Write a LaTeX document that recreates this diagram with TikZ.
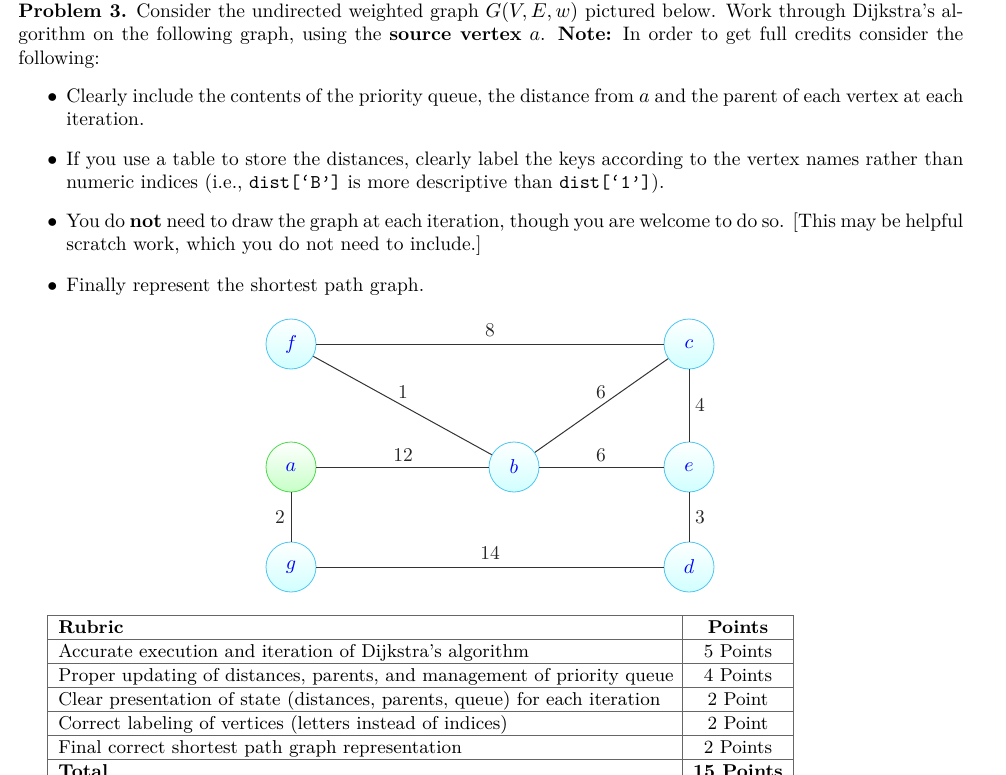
\documentclass[tikz,border=0pt]{standalone}
\usepackage{amsmath}
\begin{document}
\begin{tikzpicture}[x=0.5pt,y=-0.5pt,font=\fontsize{9.75}{11.6}\selectfont,
  vert/.style={circle,draw=cyan!70,minimum size=25pt,inner sep=0pt,top color=white,bottom color=cyan!18,text=blue},
  src/.style={vert,draw=green!80!black!70,bottom color=green!22},
  edge/.style={draw=black!80,line width=0.5pt},
  wt/.style={text=black!85},
  para/.style={anchor=north west,inner sep=0pt,align=justify},
  bul/.style={anchor=north west,inner sep=0pt},
  cell/.style={anchor=base west,inner sep=0pt},
  pts/.style={anchor=base,inner sep=0pt},
  grid/.style={draw=black!60,line width=0.5pt}]
\useasboundingbox (0,0) rectangle (1006,775);
\node[para,text width=472.5pt] (t) at (18,1) {\strut\textbf{Problem 3.} Consider the undirected weighted graph $G(V,E,w)$ pictured below. Work through Dijkstra's al-\linebreak gorithm on the following graph, using the \textbf{source vertex} $a$. \textbf{Note:} In order to get full credits consider the\linebreak following:};
\node[bul] (b1) at (47,86) {\strut$\bullet$};
\node[para,text width=448.5pt] (i1) at (66,86) {\strut Clearly include the contents of the priority queue, the distance from $a$ and the parent of each vertex at each\linebreak iteration.};
\node[bul] (b2) at (47,149) {\strut$\bullet$};
\node[para,text width=448.5pt] (i2) at (66,149) {\strut If you use a table to store the distances, clearly label the keys according to the vertex names rather than\linebreak numeric indices (i.e., \texttt{dist[‘B’]} is more descriptive than \texttt{dist[‘1’]}).};
\node[bul] (b3) at (47,211) {\strut$\bullet$};
\node[para,text width=448.5pt] (i3) at (66,211) {\strut You do \textbf{not} need to draw the graph at each iteration, though you are welcome to do so. [This may be helpful\linebreak scratch work, which you do not need to include.]};
\node[bul] (b4) at (47,275) {\strut$\bullet$};
\node[para,text width=448.5pt] (i4) at (66,275) {\strut Finally represent the shortest path graph.};

\node[vert] (f) at (291,344) {$f$};
\node[vert] (c) at (689,344) {$c$};
\node[src]  (a) at (291,467) {$a$};
\node[vert] (b) at (514,467) {$b$};
\node[vert] (e) at (689,467) {$e$};
\node[vert] (g) at (291,567) {$g$};
\node[vert] (d) at (689,567) {$d$};
\draw[edge] (f) -- (c);
\draw[edge] (f) -- (b);
\draw[edge] (c) -- (b);
\draw[edge] (c) -- (e);
\draw[edge] (a) -- (b);
\draw[edge] (b) -- (e);
\draw[edge] (a) -- (g);
\draw[edge] (e) -- (d);
\draw[edge] (g) -- (d);
\node[wt] (w8) at (490,330) {8};
\node[wt] (w1) at (403,392) {1};
\node[wt] (w6a) at (601,392) {6};
\node[wt] (w4) at (700,405) {4};
\node[wt] (w12) at (403,455) {12};
\node[wt] (w6b) at (601,455) {6};
\node[wt] (w2) at (280,517) {2};
\node[wt] (w3) at (700,517) {3};
\node[wt] (w14) at (490,553) {14};

\foreach \yy in {615,639,663,687,711,735,759} \draw[grid] (47,\yy) -- (793,\yy);
\draw[grid] (47,615) -- (47,780);
\draw[grid] (682,615) -- (682,780);
\draw[grid] (793,615) -- (793,780);
\begin{scope}[font=\fontsize{9.3}{11}\selectfont]
\node[cell] (r0) at (58,633) {\textbf{Rubric}};
\node[pts] (p0) at (738,633) {\textbf{Points}};
\node[cell] (r1) at (58,657) {Accurate execution and iteration of Dijkstra's algorithm};
\node[pts] (p1) at (738,657) {5 Points};
\node[cell] (r2) at (58,681) {Proper updating of distances, parents, and management of priority queue};
\node[pts] (p2) at (738,681) {4 Points};
\node[cell] (r3) at (58,705) {Clear presentation of state (distances, parents, queue) for each iteration};
\node[pts] (p3) at (738,705) {2 Point};
\node[cell] (r4) at (58,729) {Correct labeling of vertices (letters instead of indices)};
\node[pts] (p4) at (738,729) {2 Point};
\node[cell] (r5) at (58,753) {Final correct shortest path graph representation};
\node[pts] (p5) at (738,753) {2 Points};
\node[cell] (r6) at (58,777) {\textbf{Total}};
\node[pts] (p6) at (738,777) {\textbf{15 Points}};
\end{scope}
\end{tikzpicture}
\end{document}
